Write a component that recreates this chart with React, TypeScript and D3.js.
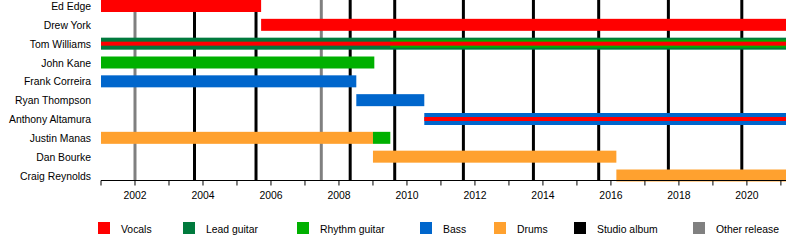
import React from "react";
import * as d3 from "d3";

const members = [
  "Ed Edge",
  "Drew York",
  "Tom Williams",
  "John Kane",
  "Frank Correira",
  "Ryan Thompson",
  "Anthony Altamura",
  "Justin Manas",
  "Dan Bourke",
  "Craig Reynolds",
];

const roles = ["Vocals", "Lead guitar", "Rhythm guitar", "Bass", "Drums"];
const roleColors = ["#ff0000", "#007a3d", "#00b000", "#0066cc", "#ffa12f"];

// member, role, start, end, layer (0 = full, 1 = mid, 2 = thin)
const spans: [string, string, number, number, number][] = [
  ["Ed Edge", "Vocals", 2001, 2005.71, 0],
  ["Drew York", "Vocals", 2005.71, 2021.15, 0],
  ["Tom Williams", "Lead guitar", 2001, 2021.15, 0],
  ["Tom Williams", "Rhythm guitar", 2009.51, 2021.15, 1],
  ["Tom Williams", "Vocals", 2001, 2021.15, 2],
  ["John Kane", "Rhythm guitar", 2001, 2009.04, 0],
  ["Frank Correira", "Bass", 2001, 2008.51, 0],
  ["Ryan Thompson", "Bass", 2008.51, 2010.51, 0],
  ["Anthony Altamura", "Bass", 2010.51, 2021.15, 0],
  ["Anthony Altamura", "Vocals", 2010.51, 2021.15, 2],
  ["Justin Manas", "Drums", 2001, 2009.0, 0],
  ["Justin Manas", "Rhythm guitar", 2009.0, 2009.51, 0],
  ["Dan Bourke", "Drums", 2009.0, 2016.16, 0],
  ["Craig Reynolds", "Drums", 2016.16, 2021.15, 0],
];

const studioAlbums = [2003.75, 2005.56, 2008.33, 2009.64, 2011.66, 2013.72, 2015.64, 2017.69, 2019.85];
const otherReleases = [2002.0, 2007.48];

const tickYears = [2002, 2004, 2006, 2008, 2010, 2012, 2014, 2016, 2018, 2020];
const minorYears = d3.range(2001, 2022);

const legendLabels = ["Vocals", "Lead guitar", "Rhythm guitar", "Bass", "Drums", "Studio album", "Other release"];
const legendColors = ["#ff0000", "#007a3d", "#00b000", "#0066cc", "#ffa12f", "#000000", "#808080"];

const legendX = [98, 183, 297, 420, 494, 574, 693];

export default function App() {
  const x = d3.scaleLinear().domain([2001, 2021.15]).range([101, 786]);
  const y = d3.scalePoint<string>().domain(members).range([6, 175.5]);
  const color = d3.scaleOrdinal<string, string>().domain(roles).range(roleColors);
  const layerH = [12, 8, 4];
  const font = "'Liberation Sans', Arial, sans-serif";
  const axisY = 180.5;
  const fs = 10.4;

  return (
    <svg
      width={800}
      height={240}
      style={{ position: "absolute", left: 0, top: 0, background: "#fff" }}
      fontFamily={font}
    >
      <rect x={0} y={0} width={800} height={240} fill="#fff" />
      {otherReleases.map((d, i) => (
        <line key={"o" + i} x1={x(d)} x2={x(d)} y1={0} y2={axisY} stroke="#808080" strokeWidth={3} />
      ))}
      {studioAlbums.map((d, i) => (
        <line key={"s" + i} x1={x(d)} x2={x(d)} y1={0} y2={axisY} stroke="#000" strokeWidth={3} />
      ))}
      {spans.map(([m, r, s, e, l], i) => {
        const h = layerH[l];
        return (
          <rect
            key={"b" + i}
            x={x(s)}
            y={(y(m) as number) - h / 2}
            width={x(e) - x(s)}
            height={h}
            fill={color(r)}
          />
        );
      })}
      {members.map((m) => (
        <text key={m} x={91} y={(y(m) as number) + 4} textAnchor="end" fontSize={fs} fill="#000">
          {m}
        </text>
      ))}
      <line x1={x(2001)} x2={x(2021.15)} y1={axisY} y2={axisY} stroke="#000" strokeWidth={1} />
      {minorYears.map((yr) => (
        <line key={"t" + yr} x1={x(yr)} x2={x(yr)} y1={axisY} y2={axisY + 5} stroke="#000" strokeWidth={1} />
      ))}
      {tickYears.map((yr) => (
        <text key={"l" + yr} x={x(yr)} y={199} textAnchor="middle" fontSize={fs} fill="#000">
          {yr}
        </text>
      ))}
      {legendLabels.map((lab, i) => (
        <g key={lab}>
          <rect x={legendX[i]} y={222} width={12} height={12} fill={legendColors[i]} />
          <text x={legendX[i] + 23} y={233} fontSize={fs} fill="#000">
            {lab}
          </text>
        </g>
      ))}
    </svg>
  );
}
